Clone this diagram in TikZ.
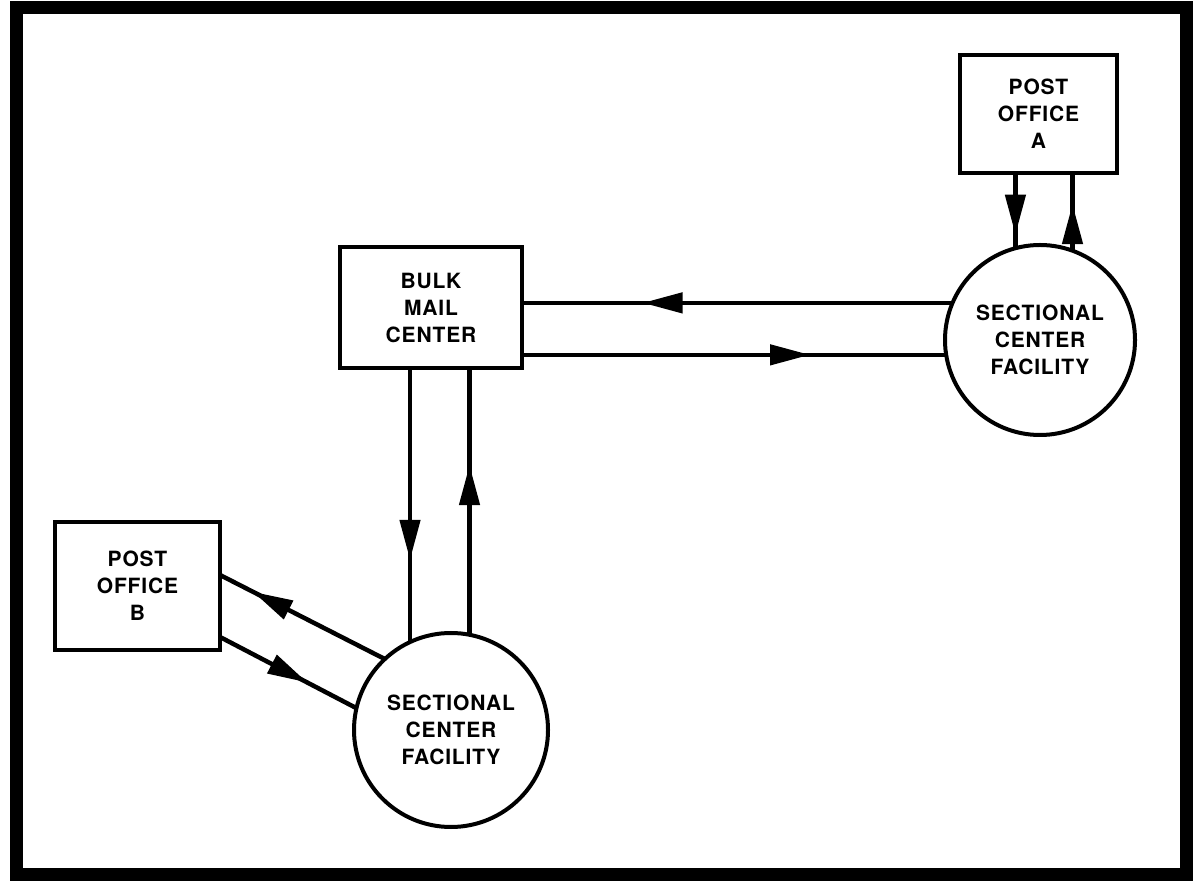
\documentclass[tikz,border=0pt]{standalone}
\usepackage{fontspec}
\newfontfamily\labfont{TeX Gyre Heros}[LetterSpace=4]
\newcommand\labtext{\labfont\bfseries\fontsize{21}{27}\selectfont}
\usetikzlibrary{arrows.meta,decorations.markings}
\begin{document}
\begin{tikzpicture}[x=1pt,y=1pt,
  box/.style={draw, line width=4.5pt, rectangle, inner sep=0pt, outer sep=0pt, align=center, font=\labtext},
  hub/.style={draw, line width=4pt, circle, inner sep=0pt, outer sep=0pt, minimum size=#1, align=center, font=\labtext},
  conn/.style={line width=4.5pt},
  arr/.style={postaction={decorate}, decoration={markings, mark=at position #1 with {\arrow{Triangle[length=40pt,width=20pt]}}}}
]
\useasboundingbox (0,0) rectangle (1198,880);
\draw[line width=13pt] (16,6) rectangle (1186,872);

\node[box, minimum width=157pt, minimum height=118pt] (poA) at (1038.5,766) {POST\\OFFICE\\A};
\node[hub=190pt] (scfA) at (1040,540) {SECTIONAL\\CENTER\\FACILITY};
\node[box, minimum width=182pt, minimum height=121pt] (bmc) at (431,572.5) {BULK\\MAIL\\CENTER};
\node[box, minimum width=165pt, minimum height=128pt] (poB) at (137.5,294) {POST\\OFFICE\\B};
\node[hub=194pt] (scfB) at (451,150) {SECTIONAL\\CENTER\\FACILITY};

% Post office A <-> SCF A
\draw[conn, arr=0.82] (poA.south -| scfA.105.3) -- (scfA.105.3);
\draw[conn, arr=0.60] (scfA.70.3) -- (scfA.70.3 |- poA.south);
% SCF A <-> BMC
\draw[conn, arr=0.72] (scfA.157.1) -- (scfA.157.1 -| bmc.east);
\draw[conn, arr=0.679] (bmc.east |- scfA.189.7) -- (scfA.189.7);
% BMC <-> SCF B
\draw[conn, arr=0.70] (bmc.south -| scfB.115) -- (scfB.115);
\draw[conn, arr=0.636] (scfB.79.3) -- (scfB.79.3 |- bmc.south);
% SCF B <-> Post office B
\draw[conn, arr=0.80] (scfB.133.3) -- ([yshift=11pt]poB.east);
\draw[conn, arr=0.64] ([yshift=-51pt]poB.east) -- (scfB.167.4);
\end{tikzpicture}
\end{document}
